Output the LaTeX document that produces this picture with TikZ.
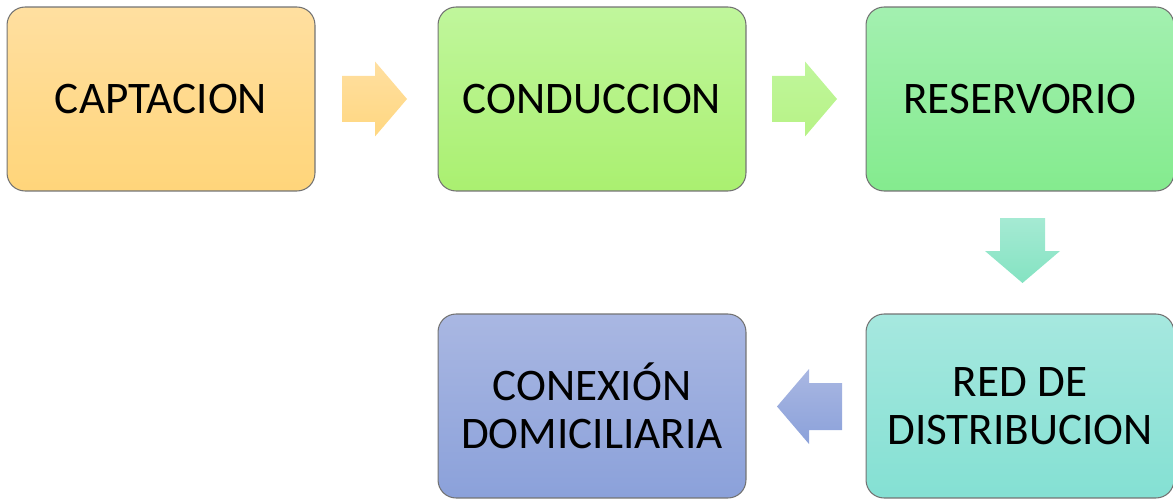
\documentclass[tikz,border=0pt]{standalone}
\usepackage{fontspec}
\setmainfont{Carlito}
\usetikzlibrary{calc,positioning}

\definecolor{captA}{RGB}{255,223,160}
\definecolor{captB}{RGB}{255,213,122}
\definecolor{condA}{RGB}{192,246,156}
\definecolor{condB}{RGB}{170,240,112}
\definecolor{resA}{RGB}{163,240,176}
\definecolor{resB}{RGB}{132,235,142}
\definecolor{redA}{RGB}{166,232,223}
\definecolor{redB}{RGB}{132,224,211}
\definecolor{conA}{RGB}{169,183,226}
\definecolor{conB}{RGB}{139,161,218}

\tikzset{
	etapa/.style={rounded corners=0.36cm, draw=black!55, line width=0.6pt,
		minimum width=6.16cm, minimum height=3.68cm, inner sep=0pt,
		align=center, font=\fontsize{25.7}{27}\selectfont}
}

\begin{document}
\begin{tikzpicture}[x=0.02cm, y=-0.02cm]
	\useasboundingbox (0,0) rectangle (1173,500);

	% etapas
	\node[etapa, top color=captA, bottom color=captB] (capt) at (161,99) {CAPTACION};
	\node[etapa, top color=condA, bottom color=condB] (cond) at (592,99) {CONDUCCION};
	\node[etapa, top color=resA, bottom color=resB] (res) at (1020,99) {RESERVORIO};
	\node[etapa, top color=redA, bottom color=redB] (red) at (1020,406) {RED DE\\DISTRIBUCION};
	\node[etapa, top color=conA, bottom color=conB] (con) at (592,406) {CONEXIÓN\\DOMICILIARIA};

	% centros de las flechas
	\coordinate (f1) at (374.5,99);
	\coordinate (f2) at (804.5,99);
	\coordinate (f3) at (1022.5,250.5);
	\coordinate (f4) at (809.5,406.5);

	% flechas
	\shade[shift={(f1)}, top color=captA, bottom color=captB!95!white]
		(-32.5,-23) -- (0.5,-23) -- (0.5,-37.5) -- (32.5,0) -- (0.5,37.5) -- (0.5,23) -- (-32.5,23) -- cycle;
	\shade[shift={(f2)}, top color=condA, bottom color=condB!85!white]
		(-32.5,-23) -- (0.5,-23) -- (0.5,-37.5) -- (32.5,0) -- (0.5,37.5) -- (0.5,23) -- (-32.5,23) -- cycle;
	\shade[shift={(f3)}, top color=redA!75!resA, bottom color=redB!75!resB]
		(-22.5,-32.5) -- (22.5,-32.5) -- (22.5,0.5) -- (37.5,0.5) -- (0,32.5) -- (-37.5,0.5) -- (-22.5,0.5) -- cycle;
	\shade[shift={(f4)}, top color=conA, bottom color=conB]
		(32.5,-23.5) -- (-0.5,-23.5) -- (-0.5,-37.5) -- (-32.5,0) -- (-0.5,37.5) -- (-0.5,23.5) -- (32.5,23.5) -- cycle;
\end{tikzpicture}
\end{document}
